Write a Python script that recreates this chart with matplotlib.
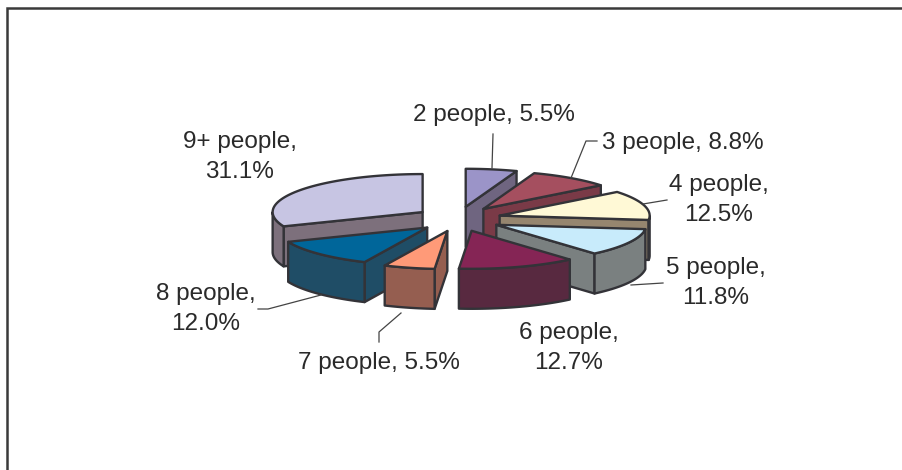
import numpy as np
import matplotlib
matplotlib.use("Agg")
import matplotlib.pyplot as plt
from matplotlib.patches import Polygon

labels = ["2 people, 5.5%", "3 people, 8.8%", "4 people,\n12.5%", "5 people,\n11.8%",
          "6 people,\n12.7%", "7 people, 5.5%", "8 people,\n12.0%", "9+ people,\n31.1%"]
values = [5.5, 8.8, 12.5, 11.8, 12.7, 5.5, 12.0, 31.1]
top_colors = ["#9b94c8", "#a54f5f", "#fff9d6", "#c8ebfb", "#852555", "#ff9a78", "#00669a", "#c7c5e3"]
cut_colors = ["#6f6580", "#7a3a47", "#96866f", "#7a8080", "#582940", "#955e50", "#1f4d66", "#7d707c"]
arc_colors = ["#6f6580", "#7a3a47", "#33333f", "#7a8080", "#582940", "#955e50", "#1f4d66", "#7d707c"]
draw_order = [0, 1, 7, 2, 3, 6, 5, 4]
label_xy = [(494, 115), (683, 143), (719, 200), (716, 283), (569, 348), (379, 363), (206, 309), (240, 157)]
leaders = [[(493, 134), (492, 168)],
           [(597, 141), (586, 141), (571, 178)],
           [(667, 200), (643, 204)],
           [(663, 283), (631, 285)],
           [],
           [(379, 342), (379, 332), (401, 313)],
           [(258, 309), (268, 309), (321, 295)],
           []]

CX, CY = 458.3, 219.0
RX, RY = 150.0, 38.0
EX, EY = 43.0, 12.4
DEPTH = 40.0
EDGE = "#333338"

fig = plt.figure(figsize=(9.02, 4.70), dpi=100, facecolor="white")
ax = fig.add_axes([0, 0, 1, 1])
ax.set_xlim(0, 902)
ax.set_ylim(470, 0)
ax.axis("off")

# chart frame: only its top and left edges fall inside the picture
ax.plot([7, 7, 910], [480, 8, 8], color="#3a3a3a", lw=1.8, zorder=1, solid_joinstyle="miter")

fractions = np.array(values) / sum(values)
edges = np.concatenate([[0], np.cumsum(fractions)]) * 360

z = 2
for i in draw_order:
    a0, a1 = edges[i], edges[i + 1]
    mid = np.radians((a0 + a1) / 2)
    ax0 = CX + EX * np.sin(mid)
    ay0 = CY - EY * np.cos(mid)
    th = np.radians(np.linspace(a0, a1, max(int(a1 - a0), 2) + 1))
    arc = np.column_stack([ax0 + RX * np.sin(th), ay0 - RY * np.cos(th)])
    apex = np.array([ax0, ay0])
    ring = np.vstack([apex, arc])
    # side faces: cut edges then outer arc, only those facing the viewer
    n = len(ring)
    for j in [0, n - 1]:
        p, q = ring[j], ring[(j + 1) % n]
        if q[0] - p[0] < 0:
            ax.add_patch(Polygon([p, q, q + [0, DEPTH], p + [0, DEPTH]], closed=True,
                                 fc=cut_colors[i], ec=EDGE, lw=1.7, zorder=z, joinstyle="round"))
    front = [k for k in range(len(arc)) if np.cos(th[k]) <= 0]
    if len(front) > 1:
        seg = arc[front]
        low = seg + [0, DEPTH]
        ax.add_patch(Polygon(np.vstack([seg, low[::-1]]), closed=True,
                             fc=arc_colors[i], ec=EDGE, lw=1.7, zorder=z, joinstyle="round"))
    ax.add_patch(Polygon(ring, closed=True, fc=top_colors[i], ec=EDGE, lw=1.7, zorder=z + 0.5, joinstyle="round"))
    z += 1

for pts in leaders:
    if pts:
        xs, ys = zip(*pts)
        ax.plot(xs, ys, color="#444444", lw=0.9, zorder=30)

for lab, (x, y) in zip(labels, label_xy):
    ax.text(x, y, lab, family="Liberation Sans", fontsize=17.5, color="#2a2a2a",
            ha="center", va="center", linespacing=1.43, zorder=31)

fig.savefig("out.png", dpi=100)
